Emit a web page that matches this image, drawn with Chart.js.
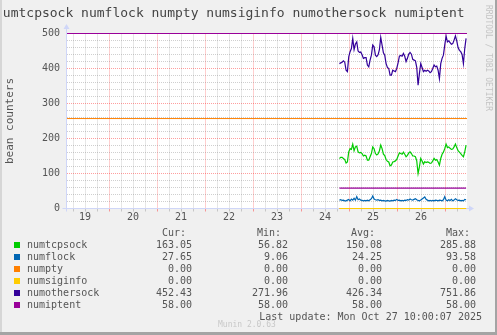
<!DOCTYPE html>
<html lang="en">
<head>
<meta charset="UTF-8">
<title>bean counters</title>
<script src="https://cdn.jsdelivr.net/npm/chart.js"></script>
<style>
  body { margin: 0; background: #f0f0f0; }
  #wrap { position: relative; width: 497px; height: 335px; background: #f0f0f0; overflow: hidden;
          font-family: "DejaVu Sans Mono", monospace; color: #555; }
  #chart { position: absolute; left: 0; top: 0; }
  .abs { position: absolute; white-space: pre; }
  .edge { position: absolute; }
  #title { left: -5px; top: 5px; font-size: 13px; line-height: 16px; color: #444; }
  #rrd { left: 484px; top: 5px; font-size: 8px; writing-mode: vertical-rl; color: #c4c4c4; }
  .row { font-size: 10px; line-height: 12px; }
  .num { text-align: right; }
  .sq { position: absolute; width: 6px; height: 6px; }
  #munin { font-size: 8px; line-height: 10px; color: #c8c8c8; }
</style>
</head>
<body>
<div id="wrap">
  <canvas id="chart" width="497" height="335"></canvas>
  <div class="abs" id="title">numtcpsock numflock numpty numsiginfo numothersock numiptent</div>
  <div class="abs" id="rrd">RRDTOOL / TOBI OETIKER</div>
  <div id="legend"></div>
  <div class="abs row num" style="right:15px; top:311px;">Last update: Mon Oct 27 10:00:07 2025</div>
  <div class="abs" id="munin" style="left:218px; top:320px;">Munin 2.0.63</div>
  <div class="edge" style="left:0; top:0; width:2px; height:335px; background:#d6d6d6;"></div>
  <div class="edge" style="right:0; top:0; width:2px; height:335px; background:#a4a4a4;"></div>
  <div class="edge" style="left:0; bottom:0; width:497px; height:3px; background:#a4a4a4;"></div>
</div>

<script>
// time axis in days of October (integer = midnight, .5 = noon)
const days = [19, 20, 21, 22, 23, 24, 25, 26];
const yLabels = [0, 100, 200, 300, 400, 500];
const sampleStart = 24.8;
const sampleStep = 40 / 1440;

const numtcpsock = [
  143, 146, 146, 143, 140, 130, 133, 162, 171, 169,
  184, 165, 176, 178, 162, 159, 160, 157, 150, 152,
  150, 138, 138, 148, 157, 176, 171, 157, 153, 156,
  165, 181, 171, 155, 151, 140, 135, 133, 122, 124,
  133, 134, 136, 140, 150, 159, 157, 155, 161, 155,
  148, 152, 159, 162, 157, 150, 150, 148, 136, 100,
  119, 143, 136, 127, 134, 131, 133, 132, 129, 130,
  136, 143, 138, 140, 133, 124, 143, 155, 161, 171,
  184, 174, 176, 172, 169, 170, 176, 184, 174, 165,
  161, 157, 152, 148, 162, 181
];
const numflock = [
  24, 25, 23, 24, 22, 22, 24, 26, 22, 27,
  24, 29, 24, 34, 25, 27, 24, 23, 22, 23,
  22, 24, 22, 25, 28, 36, 27, 25, 24, 25,
  23, 24, 22, 23, 22, 21, 23, 22, 21, 23,
  22, 24, 23, 26, 23, 24, 22, 23, 22, 24,
  23, 25, 24, 27, 25, 24, 26, 28, 25, 23,
  22, 24, 27, 30, 33, 26, 24, 22, 23, 22,
  23, 22, 24, 23, 22, 24, 23, 22, 25, 34,
  24, 22, 25, 23, 26, 22, 24, 28, 25, 23,
  24, 22, 23, 22, 26, 25
];
const numothersock = [
  414, 416, 418, 422, 418, 395, 391, 433, 448, 457,
  486, 454, 470, 476, 450, 446, 447, 439, 429, 431,
  431, 410, 405, 424, 438, 467, 462, 438, 434, 439,
  454, 489, 467, 445, 438, 414, 403, 400, 381, 381,
  395, 393, 391, 400, 416, 435, 437, 435, 443, 435,
  420, 429, 441, 446, 441, 426, 424, 422, 403, 352,
  386, 414, 403, 391, 395, 392, 395, 393, 388, 391,
  400, 410, 405, 407, 395, 371, 414, 429, 438, 467,
  493, 476, 479, 474, 469, 471, 481, 493, 479, 460,
  452, 448, 440, 414, 457, 486
];
const numpty = 0;
const numsiginfo = 0;
const numiptent = 58;
const ptyLimit = 257;
const iptentLimit = 500;

const legendNames = ['numtcpsock', 'numflock', 'numpty', 'numsiginfo', 'numothersock', 'numiptent'];
const legendColors = ['#00cc00', '#0066b3', '#ff8000', '#ffcc00', '#330099', '#990099'];
const curVals = ['163.05', '27.65', '0.00', '0.00', '452.43', '58.00'];
const minVals = ['56.82', '9.06', '0.00', '0.00', '271.96', '58.00'];
const avgVals = ['150.08', '24.25', '0.00', '0.00', '426.34', '58.00'];
const maxVals = ['285.88', '93.58', '0.00', '0.00', '751.86', '58.00'];

const xMin = 19.125, xMax = 27.458;

function series(values) {
  return values.map((v, i) => ({ x: sampleStart + i * sampleStep, y: v }));
}
const sampleEnd = sampleStart + (numtcpsock.length - 1) * sampleStep;
function flat(v, from, to) {
  return [{ x: from, y: v }, { x: to, y: v }];
}

// legend block
const legend = document.getElementById('legend');
let html = '';
const headers = [['Cur:', 311], ['Min:', 216], ['Avg:', 122], ['Max:', 27]];
headers.forEach(h => { html += `<div class="abs row num" style="right:${h[1]}px; top:227px;">${h[0]}</div>`; });
legendNames.forEach((name, i) => {
  const top = 239 + i * 12;
  html += `<div class="sq" style="left:14px; top:${top + 3}px; background:${legendColors[i]};"></div>`;
  html += `<div class="abs row" style="left:27px; top:${top}px;">${name}</div>`;
  html += `<div class="abs row num" style="right:305px; top:${top}px;">${curVals[i]}</div>`;
  html += `<div class="abs row num" style="right:209px; top:${top}px;">${minVals[i]}</div>`;
  html += `<div class="abs row num" style="right:115px; top:${top}px;">${avgVals[i]}</div>`;
  html += `<div class="abs row num" style="right:21px; top:${top}px;">${maxVals[i]}</div>`;
});
legend.innerHTML = html;

const majorGrid = 'rgba(255, 0, 0, 0.38)';
const minorGrid = 'rgba(128, 128, 128, 0.38)';
const axisColor = '#cfd6f8';

const canvasBg = {
  id: 'canvasBg',
  beforeDraw(chart) {
    const a = chart.chartArea, ctx = chart.ctx;
    ctx.save();
    ctx.fillStyle = '#ffffff';
    ctx.fillRect(Math.floor(a.left), Math.floor(a.top), a.right - a.left, a.bottom - a.top);
    ctx.restore();
  },
  beforeDatasetsDraw(chart) {
    const a = chart.chartArea, ctx = chart.ctx;
    const bx = Math.floor(a.bottom) + 0.5, lx = Math.floor(a.left) - 0.5, ty = Math.floor(a.top);
    ctx.save();
    ctx.strokeStyle = axisColor;
    ctx.fillStyle = axisColor;
    ctx.lineWidth = 1;
    ctx.beginPath();
    ctx.moveTo(lx - 4, bx);
    ctx.lineTo(a.right + 2, bx);
    ctx.moveTo(lx, bx + 3);
    ctx.lineTo(lx, ty - 4);
    ctx.stroke();
    ctx.beginPath();
    ctx.moveTo(a.right + 7, bx);
    ctx.lineTo(a.right + 2, bx - 3);
    ctx.lineTo(a.right + 2, bx + 3);
    ctx.closePath();
    ctx.fill();
    ctx.beginPath();
    ctx.moveTo(lx, ty - 9);
    ctx.lineTo(lx - 3, ty - 4);
    ctx.lineTo(lx + 3, ty - 4);
    ctx.closePath();
    ctx.fill();
    ctx.restore();
  }
};

Chart.defaults.font.family = '"DejaVu Sans Mono", monospace';
Chart.defaults.font.size = 10;
Chart.defaults.color = '#555';

function line(label, data, color, width) {
  return { label, data, borderColor: color, backgroundColor: color, borderWidth: width || 1.2,
           pointRadius: 0, tension: 0, fill: false, clip: false };
}

new Chart(document.getElementById('chart'), {
  type: 'line',
  data: {
    datasets: [
      line('numiptent', flat(numiptent, sampleStart, sampleEnd), '#990099', 1.2),
      line('numothersock', series(numothersock), '#330099'),
      line('numsiginfo', flat(numsiginfo, sampleStart, sampleEnd), '#ffcc00', 1),
      line('numpty', flat(numpty, sampleStart, sampleEnd), '#ff8000', 1),
      line('numflock', series(numflock), '#0066b3'),
      line('numtcpsock', series(numtcpsock), '#00cc00'),
      line('ptylimit', flat(ptyLimit, xMin, xMax), '#ff8000', 1),
      line('iptentlimit', flat(iptentLimit, xMin, xMax), '#990099', 1.2)
    ]
  },
  options: {
    responsive: false,
    animation: false,
    events: [],
    layout: { padding: { left: 0, top: 33.5, right: 30, bottom: 106.5 } },
    plugins: { legend: { display: false }, tooltip: { enabled: false } },
    scales: {
      x: {
        type: 'linear', min: xMin, max: xMax,
        afterBuildTicks(scale) {
          const t = [];
          for (let v = Math.ceil(scale.min * 4) / 4; v <= scale.max; v += 0.25) t.push({ value: v });
          scale.ticks = t;
        },
        afterFit(scale) { scale.height = 20; },
        ticks: {
          autoSkip: false, maxRotation: 0, padding: 0, color: '#555',
          callback(v) {
            const i = days.indexOf(Math.floor(v));
            return (v % 1 === 0.5 && i >= 0) ? String(days[i]) : '';
          }
        },
        grid: {
          color: ctx => (ctx.tick && ctx.tick.value % 1 === 0) ? majorGrid : minorGrid,
          tickColor: ctx => (ctx.tick && ctx.tick.value % 1 === 0) ? majorGrid : minorGrid,
          tickLength: 3
        },
        border: { display: false, dash: [1, 1] }
      },
      y: {
        min: 0, max: 500,
        afterBuildTicks(scale) {
          const t = [];
          for (let v = 0; v <= 500; v += 20) t.push({ value: v });
          scale.ticks = t;
        },
        afterFit(scale) { scale.width = 67; },
        ticks: {
          autoSkip: false, padding: 7, color: '#555',
          callback(v) { return yLabels.includes(v) ? String(v) : ''; }
        },
        grid: {
          drawTicks: false,
          color: ctx => (ctx.tick && ctx.tick.value % 100 === 0) ? majorGrid : minorGrid
        },
        border: { display: false, dash: [1, 1] },
        title: { display: true, text: 'bean counters', color: '#555', font: { size: 11 }, padding: { top: 4, bottom: 0 } }
      }
    }
  },
  plugins: [canvasBg]
});
</script>
</body>
</html>
